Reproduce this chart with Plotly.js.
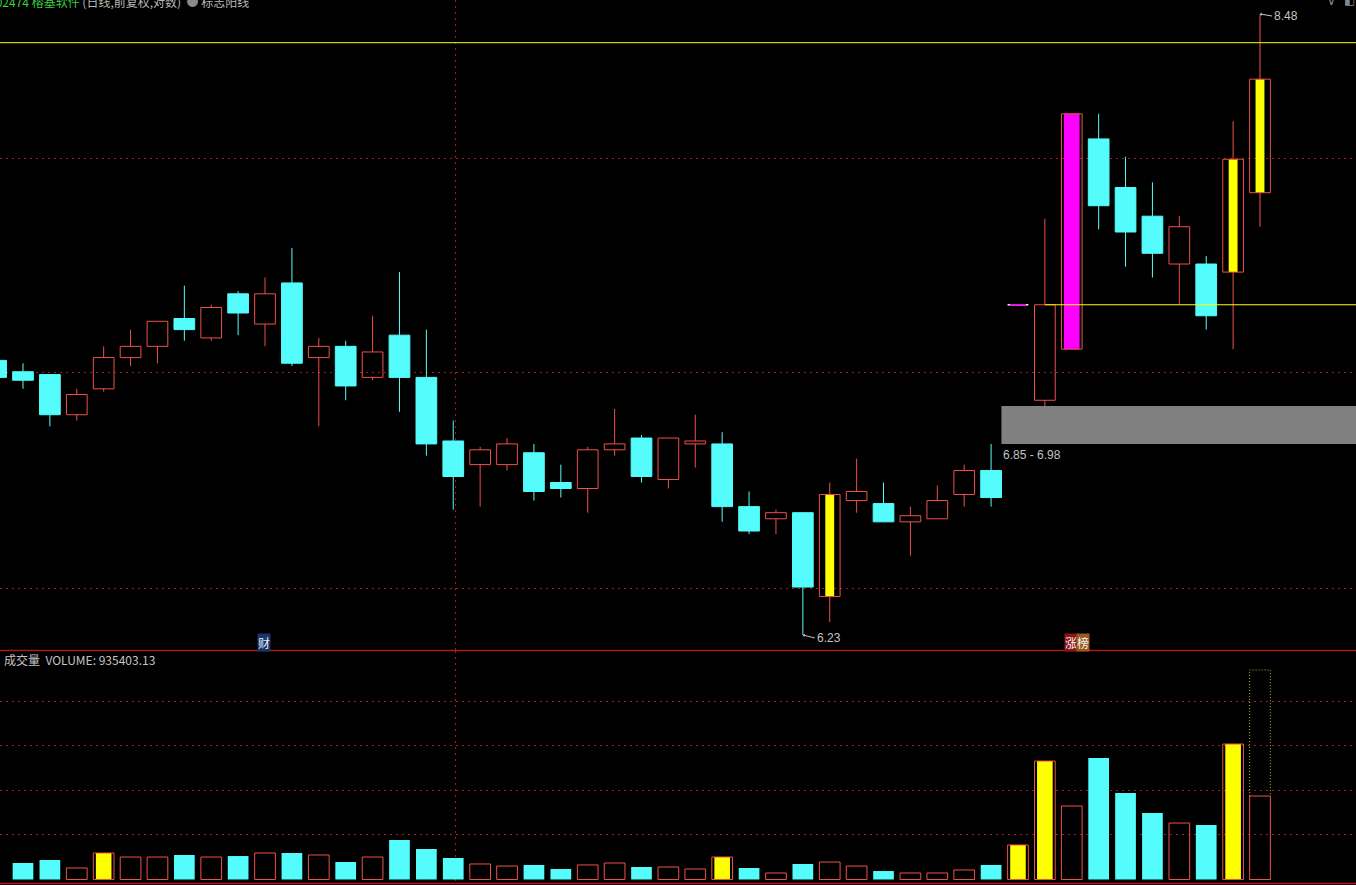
<!DOCTYPE html>
<html>
<head>
<meta charset="utf-8">
<script src="https://cdn.plot.ly/plotly-3.0.1.min.js"></script>
<style>
html,body{margin:0;padding:0;background:#000;overflow:hidden}
#chart{width:1356px;height:885px}
</style>
</head>
<body>
<div id="chart"></div>
<script>
// ---------------- DATA (daily bars, index 0 = leftmost, partly off-screen) ----------------
const stockCode = '002474';
const stockName = '榕基软件';
const openP  = [7.14,7.10,7.09,6.95,7.04,7.15,7.19,7.29,7.22,7.38, 7.27,7.42,7.15,7.19,7.08,7.23,7.08,6.86,6.78,6.78, 6.82,6.72,6.70,6.83,6.87,6.73,6.85,6.85,6.64,6.60, 6.62,6.35,6.66,6.65,6.59,6.60,6.68,6.76,7.34,7.00, 7.18,7.97,7.78,7.67,7.49,7.49,7.46,7.76];
const highP  = [7.14,7.13,7.09,7.04,7.19,7.25,7.28,7.41,7.34,7.39, 7.44,7.55,7.22,7.21,7.30,7.46,7.25,6.93,6.84,6.87, 6.85,6.78,6.84,6.97,6.88,6.87,6.95,6.89,6.69,6.63, 6.62,6.72,6.80,6.72,6.64,6.71,6.78,6.85,7.34,7.66, 8.07,8.07,7.90,7.80,7.67,7.52,8.04,8.48];
const lowP   = [7.08,7.04,6.91,6.93,7.03,7.12,7.13,7.21,7.21,7.23, 7.19,7.12,6.91,7.00,7.07,6.96,6.81,6.63,6.64,6.76, 6.66,6.67,6.62,6.81,6.72,6.70,6.77,6.59,6.55,6.55, 6.23,6.27,6.62,6.59,6.48,6.60,6.64,6.64,7.34,6.98, 7.18,7.62,7.48,7.44,7.34,7.25,7.18,7.63];
const closeP = [7.08,7.07,6.95,7.02,7.15,7.19,7.28,7.25,7.33,7.31, 7.38,7.13,7.19,7.05,7.17,7.08,6.85,6.74,6.83,6.85, 6.69,6.70,6.83,6.85,6.74,6.87,6.86,6.64,6.56,6.62, 6.38,6.68,6.69,6.59,6.61,6.66,6.76,6.67,7.34,7.34, 8.07,7.71,7.61,7.53,7.63,7.30,7.89,8.21];
const volume = [null,185000,219000,129000,297000,252000,252000,275000,252000,263000, 297000,297000,275000,196000,252000,443000,342000,241000,174000,151000, 163000,118000,163000,185000,140000,140000,118000,252000,129000,73000, 174000,196000,151000,95000,73000,73000,107000,163000,387000,1328000, 824000,1362000,970000,746000,633000,611000,1519000,935403.13];
const projectedVolume = 2349000;          // estimated full-day volume of the last bar
const signalCandles = [31, 46, 47];       // 标志阳线 (yellow core)
const limitUpCandles = [40];              // limit-up bar (magenta core)
const doubleVolumeDays = [4, 27, 38, 39, 46];
const gapLow = 6.85, gapHigh = 6.98, gapAfterDay = 37;
const markLineHigh = 8.36, markLineLow = 7.34, markLineLowFrom = 39;
const financeDay = 10, listDay = 40;
const priceGridVals = [6.375, 7.096, 7.892];
const volumeGridVals = [500000, 1000000, 1500000, 2000000];
const timeGridVals = [17.07];

// ---------------- STYLE / GEOMETRY ----------------
const CYAN = '#54fcfc', RED = '#f0504a', YEL = '#ffff00', MAG = '#ff00ff';
const GRID = '#a02020', TXT = '#c4c4c4';
const GDASH = '1.5px,4.5px';
const FONT = 'Noto Sans CJK SC, Liberation Sans, sans-serif';
const HW = 0.385, YHW = 0.165, MHW = 0.29, VW = 0.77, VIW = 0.58;
const xMin = 0.1447, xMax = 50.57;
const N = openP.length;
const idx = [...Array(N).keys()];

const cyanBody = {x:[],y:[]}, cyanWick = {x:[],y:[]}, redBody = {x:[],y:[]}, redWick = {x:[],y:[]};
const yelCore = {x:[],y:[]}, magCore = {x:[],y:[]};
const flatDays = [];
function rect(t, i, hw, lo, hi){ t.x.push(i-hw,i+hw,i+hw,i-hw,i-hw,null); t.y.push(hi,hi,lo,lo,hi,null); }
function seg(t, x0, y0, x1, y1){ t.x.push(x0,x1,null); t.y.push(y0,y1,null); }

for (const i of idx){
  const o=openP[i], c=closeP[i], h=highP[i], l=lowP[i];
  const top=Math.max(o,c), bot=Math.min(o,c);
  if (o===c && h===l){ flatDays.push(i); continue; }
  if (c < o){
    rect(cyanBody, i, HW, bot, top);
    seg(cyanWick, i, h, i, l);
  } else {
    rect(redBody, i, HW, bot, top);
    if (h > top) seg(redWick, i, h, i, top);
    if (l < bot) seg(redWick, i, bot, i, l);
    if (signalCandles.includes(i)) rect(yelCore, i, YHW, bot, top);
    if (limitUpCandles.includes(i)) rect(magCore, i, MHW, bot, top);
  }
}

const traces = [];
// gap box
traces.push({type:'scatter', mode:'lines', x:[gapAfterDay+HW, xMax+1, xMax+1, gapAfterDay+HW, gapAfterDay+HW], y:[gapLow,gapLow,gapHigh,gapHigh,gapLow], fill:'toself', fillcolor:'#808080', line:{width:0}, yaxis:'y'});
traces.push({type:'scatter', mode:'lines', x:cyanWick.x, y:cyanWick.y, line:{color:CYAN,width:1}, yaxis:'y'});
traces.push({type:'scatter', mode:'lines', x:cyanBody.x, y:cyanBody.y, fill:'toself', fillcolor:CYAN, line:{color:CYAN,width:1}, yaxis:'y'});
traces.push({type:'scatter', mode:'lines', x:yelCore.x, y:yelCore.y, fill:'toself', fillcolor:YEL, line:{color:YEL,width:0}, yaxis:'y'});
traces.push({type:'scatter', mode:'lines', x:magCore.x, y:magCore.y, fill:'toself', fillcolor:MAG, line:{color:MAG,width:0}, yaxis:'y'});
traces.push({type:'scatter', mode:'lines', x:redWick.x, y:redWick.y, line:{color:RED,width:1}, yaxis:'y'});
traces.push({type:'scatter', mode:'lines', x:redBody.x, y:redBody.y, line:{color:RED,width:1}, yaxis:'y'});
// flat (one-price) days
for (const i of flatDays){
  traces.push({type:'scatter', mode:'lines', x:[i-HW,i+HW], y:[closeP[i],closeP[i]], line:{color:'#ffffff',width:1.5}, yaxis:'y'});
  traces.push({type:'scatter', mode:'lines', x:[i-HW+0.08,i+HW-0.08], y:[closeP[i],closeP[i]], line:{color:MAG,width:1.5}, yaxis:'y'});
}
// mark lines
traces.push({type:'scatter', mode:'lines', x:[xMin-1, xMax+1], y:[markLineHigh, markLineHigh], line:{color:YEL,width:1}, yaxis:'y'});
traces.push({type:'scatter', mode:'lines', x:[markLineLowFrom, xMax+1], y:[markLineLow, markLineLow], line:{color:YEL,width:1}, yaxis:'y'});

// volume
const vCyanX=[], vCyanY=[], vRedX=[], vRedY=[], vYelX=[], vYelY=[];
for (const i of idx){
  if (volume[i]==null) continue;
  const yellow = doubleVolumeDays.includes(i);
  if (yellow){ vYelX.push(i); vYelY.push(volume[i]); }
  if (yellow || closeP[i] >= openP[i]){ vRedX.push(i); vRedY.push(volume[i]); }
  else { vCyanX.push(i); vCyanY.push(volume[i]); }
}
traces.push({type:'bar', x:vCyanX, y:vCyanY, width:VW, marker:{color:CYAN, line:{width:0}}, yaxis:'y2'});
traces.push({type:'bar', x:vYelX, y:vYelY, width:VIW, marker:{color:YEL, line:{width:0}}, yaxis:'y2'});
traces.push({type:'bar', x:vRedX, y:vRedY, width:VW, marker:{color:'rgba(0,0,0,0)', line:{color:RED,width:1}}, yaxis:'y2'});
const L = N-1;
traces.push({type:'scatter', mode:'lines', x:[L-VW/2, L-VW/2, L+VW/2, L+VW/2], y:[volume[L], projectedVolume, projectedVolume, volume[L]], line:{color:'#bcbc40', width:1, dash:'1px,2px'}, yaxis:'y2'});

// ---------------- LAYOUT ----------------
const H = 885;
const py = p => 1 - p/H;  // pixel row -> paper y
const lg = v => Math.log10(v);
const minLowIdx = lowP.indexOf(Math.min(...lowP));
const maxHighIdx = highP.indexOf(Math.max(...highP));

const annotations = [
  {xref:'paper', yref:'paper', x:0, y:1, xanchor:'left', yanchor:'middle', xshift:-13, yshift:-1, showarrow:false,
   text:`<span style="color:#3ccf3c">${stockCode} ${stockName}</span><span style="color:#b8b8b8"> (日线,前复权,对数)</span>  <span style="color:#8a8a8a">●</span> <span style="color:#b8b8b8">标志阳线</span>`,
   font:{family:FONT, size:12}},
  {xref:'paper', yref:'paper', x:1, y:1, xanchor:'right', yanchor:'middle', xshift:-18, yshift:-1, showarrow:false, text:'∨', font:{family:'DejaVu Sans', size:12, color:'#888'}},
  {xref:'paper', yref:'paper', x:1, y:1, xanchor:'right', yanchor:'middle', xshift:1, yshift:0, showarrow:false, text:'◧', font:{family:'DejaVu Sans', size:12, color:'#888'}},
  {xref:'x', yref:'y', x:maxHighIdx, y:lg(highP[maxHighIdx]), text:highP[maxHighIdx].toFixed(2), showarrow:true, xanchor:'left', ax:12, ay:2,
   arrowhead:1, arrowsize:0.6, arrowwidth:1, arrowcolor:TXT, standoff:0, font:{family:'Liberation Sans', size:12, color:TXT}},
  {xref:'x', yref:'y', x:minLowIdx, y:lg(lowP[minLowIdx]), text:lowP[minLowIdx].toFixed(2), showarrow:true, xanchor:'left', ax:12, ay:3,
   arrowhead:1, arrowsize:0.6, arrowwidth:1, arrowcolor:TXT, standoff:0, font:{family:'Liberation Sans', size:12, color:TXT}},
  {xref:'x', yref:'y', x:gapAfterDay+HW, y:lg(gapLow), xanchor:'left', yanchor:'top', xshift:0, yshift:-2, showarrow:false,
   text:`${gapLow.toFixed(2)} - ${gapHigh.toFixed(2)}`, font:{family:'Liberation Sans', size:12, color:TXT}},
  {xref:'x', yref:'paper', x:financeDay, y:py(642), xanchor:'center', yanchor:'middle', xshift:-1, showarrow:false, text:'财',
   bgcolor:'#1c3468', borderpad:0, font:{family:FONT, size:12, color:'#e6eeff'}},
  {xref:'x', yref:'paper', x:listDay, y:py(642), xanchor:'center', yanchor:'middle', xshift:-1, showarrow:false, text:'涨',
   bgcolor:'#8c1616', borderpad:0, font:{family:FONT, size:12, color:'#f4f4f4'}},
  {xref:'x', yref:'paper', x:listDay, y:py(642), xanchor:'center', yanchor:'middle', xshift:11.5, showarrow:false, text:'榜',
   bgcolor:'#9a5a1e', borderpad:0, font:{family:FONT, size:12, color:'#f4f4f4'}},
  {xref:'paper', yref:'paper', x:0, y:py(659), xanchor:'left', yanchor:'middle', xshift:2, showarrow:false,
   text:`成交量  VOLUME: ${volume[L].toFixed(2)}`, font:{family:FONT, size:12, color:TXT}}
];

const layout = {
  width:1356, height:885, margin:{l:0,r:0,t:0,b:0},
  paper_bgcolor:'#000', plot_bgcolor:'#000', showlegend:false, barmode:'overlay',
  xaxis:{range:[xMin,xMax], domain:[0,1], anchor:'y2', showticklabels:false, zeroline:false, showline:false,
         tickmode:'array', tickvals:timeGridVals, showgrid:true, gridcolor:GRID, griddash:GDASH, gridwidth:1, ticks:''},
  yaxis:{type:'log', range:[0.791249, 0.931415], domain:[py(650), 1], anchor:'x', showticklabels:false, zeroline:false,
         tickmode:'array', tickvals:priceGridVals, showgrid:true, gridcolor:GRID, griddash:GDASH, gridwidth:1, ticks:''},
  yaxis2:{range:[-61659, 2561659], domain:[0, py(651)], anchor:'x', showticklabels:false, zeroline:false,
         tickmode:'array', tickvals:volumeGridVals, showgrid:true, gridcolor:GRID, griddash:GDASH, gridwidth:1, ticks:''},
  shapes:[
    {type:'line', xref:'paper', yref:'paper', x0:0, x1:1, y0:py(650.5), y1:py(650.5), line:{color:'#a81c1c', width:1.5}},
    {type:'line', xref:'paper', yref:'paper', x0:0, x1:1, y0:py(883.5), y1:py(883.5), line:{color:'#a81c1c', width:1.5}}
  ],
  annotations
};

Plotly.newPlot('chart', traces, layout, {staticPlot:true, displayModeBar:false});
</script>
</body>
</html>
